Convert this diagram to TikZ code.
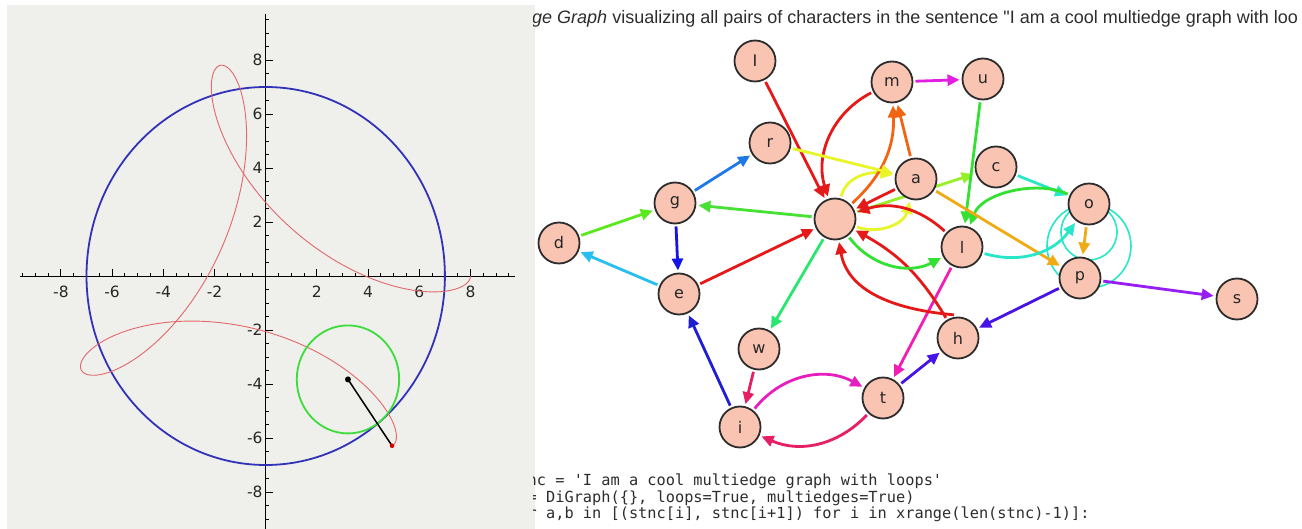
\documentclass[tikz,border=0pt]{standalone}
\usepackage{fontspec}
\usetikzlibrary{arrows.meta}
\newfontfamily\dvs{DejaVu Sans}
\newfontfamily\lsans{Liberation Sans}
\font\codefont="DejaVu Sans Mono" at 15.3pt
\definecolor{panelgray}{RGB}{239,239,235}
\definecolor{circblue}{RGB}{50,50,185}
\definecolor{circgreen}{RGB}{60,220,60}
\definecolor{curvered}{RGB}{225,105,105}
\definecolor{nodefill}{RGB}{249,196,178}
\definecolor{nodeborder}{RGB}{45,45,45}
\definecolor{txtgray}{RGB}{45,45,45}
\definecolor{ered}{RGB}{230,25,25}
\definecolor{eyel}{RGB}{232,245,40}
\definecolor{eorangeA}{RGB}{240,100,20}
\definecolor{eorangeB}{RGB}{240,170,20}
\definecolor{echart}{RGB}{150,240,40}
\definecolor{ecyan}{RGB}{40,230,200}
\definecolor{egreenA}{RGB}{50,225,50}
\definecolor{egreenB}{RGB}{70,225,50}
\definecolor{egreenC}{RGB}{90,232,30}
\definecolor{emagA}{RGB}{225,30,225}
\definecolor{emagB}{RGB}{230,30,190}
\definecolor{epink}{RGB}{240,30,180}
\definecolor{ecrim}{RGB}{230,30,100}
\definecolor{eblueA}{RGB}{30,30,210}
\definecolor{eblueB}{RGB}{20,20,230}
\definecolor{eblueC}{RGB}{30,120,230}
\definecolor{elblue}{RGB}{40,190,240}
\definecolor{eviolet}{RGB}{70,20,230}
\definecolor{espring}{RGB}{40,230,110}
\definecolor{epurple}{RGB}{150,30,240}
\pgfdeclarelayer{bg}
\pgfdeclarelayer{edgelayer}
\pgfsetlayers{bg,edgelayer,main}
\begin{document}
\begin{tikzpicture}[x=1pt,y=-1pt,
  gnode/.style={circle, draw=nodeborder, line width=1.8pt, fill=nodefill, minimum size=41pt, inner sep=0pt, outer sep=3pt, font=\dvs\fontsize{16}{18}\selectfont, text=black!85},
  gedge/.style={line width=2.8pt, -{Triangle[length=12pt,width=11pt]}},
  loopline/.style={draw=ecyan, line width=1.6pt},
  axisline/.style={line width=0.9pt, black},
  ticklab/.style={font=\dvs\fontsize{15.5}{17}\selectfont, inner sep=0pt, text=black!85}]
\begin{pgfonlayer}{bg}
  \fill[white] (0,0) rectangle (1302,529);
  \fill[panelgray] (7,5) rectangle (535,529);
\end{pgfonlayer}
\useasboundingbox (0,0) rectangle (1302,529);

% ---------- left panel: plot ----------
\begin{scope}[shift={(265.7,276)}, x=25.6pt, y=27pt]
  \draw[axisline] (-9.6,0) -- (9.74,0);
  \draw[axisline] (0,9.7) -- (0,-9.5);
  \foreach \v in {-9.5,-9,...,9.6} \draw[axisline] (\v,0) -- ++(0,3pt);
  \foreach \v in {-9,-8.5,...,9.6} \draw[axisline] (0,\v) -- ++(3pt,0);
  \foreach \v in {-8,-6,-4,-2,2,4,6,8} {
    \draw[axisline] (\v,0) -- ++(0,7pt);
    \draw[axisline] (0,\v) -- ++(7pt,0);
    \node[ticklab, anchor=north] at ([yshift=-10pt]\v,0) {\v};
    \node[ticklab, anchor=east] at ([xshift=-3pt]0,\v) {\v};
  }
  \draw[circblue, line width=1.8pt] (0,0) ellipse [x radius=179.2pt, y radius=189pt];
  \draw[curvered, line width=0.9pt] plot[domain=0:310, samples=600, variable=\t]
    ({5*cos(\t)+3*cos(2.5*\t)}, {5*sin(\t)-3*sin(2.5*\t)});
  \coordinate (rc) at (3.2139,-3.8302);
  \coordinate (pen) at (4.9347,-6.2877);
  \draw[circgreen, line width=1.8pt] (rc) ellipse [x radius=51.2pt, y radius=54pt];
  \draw[black, line width=1.5pt] (rc) -- (pen);
  \fill[black] (rc) circle (3pt);
  \fill[red!85!black] (pen) circle (2.3pt);
\end{scope}

% ---------- right panel: texts ----------
\begin{scope}
  \clip (533,0) rectangle (1302,529);
  \node[anchor=base west, inner sep=0pt, font=\lsans\fontsize{18}{21}\selectfont, text=txtgray] (title) at (532,24)
    {\textit{ge Graph} visualizing all pairs of characters in the sentence "I am a cool multiedge graph with loo};
  \node[anchor=base west, inner sep=0pt, font=\codefont, text=txtgray] (code1) at (527.5,485.5)
    {nc = 'I am a cool multiedge graph with loops'};
  \node[anchor=base west, inner sep=0pt, font=\codefont, text=txtgray] (code2) at (527.5,502)
    {= DiGraph(\{\}, loops=True, multiedges=True)};
  \node[anchor=base west, inner sep=0pt, font=\codefont, text=txtgray] (code3) at (527.5,518.5)
    {r a,b in [(stnc[i], stnc[i+1]) for i in xrange(len(stnc)-1)]:};
\end{scope}

% ---------- graph nodes ----------
\node[gnode] (I) at (755,61) {I};
\node[gnode] (m) at (892,82) {m};
\node[gnode] (u) at (983,79) {u};
\node[gnode] (r) at (770,143) {r};
\node[gnode] (a) at (916,179) {a};
\node[gnode] (c) at (996,167) {c};
\node[gnode] (g) at (675,203) {g};
\node[gnode] (sp) at (835,219) {};
\node[gnode] (o) at (1089,204) {o};
\node[gnode] (d) at (559,243) {d};
\node[gnode] (l) at (962,247) {l};
\node[gnode] (p) at (1080,278) {p};
\node[gnode] (s) at (1237,299) {s};
\node[gnode] (e) at (679,294) {e};
\node[gnode] (h) at (958,338) {h};
\node[gnode] (w) at (759,349) {w};
\node[gnode] (t) at (883,398) {t};
\node[gnode] (i) at (740,427) {i};

% ---------- edges ----------
\begin{pgfonlayer}{edgelayer}
  \draw[loopline] ([yshift=-42pt]o.center) circle [radius=42pt];
  \draw[loopline] ([yshift=-28pt]o.center) circle [radius=28pt];
  \draw[gedge, ered] (I) -- (sp);
  \draw[gedge, eyel] (sp) to[out=75, in=170] (a);
  \draw[gedge, eorangeA] (a) -- (m);
  \draw[gedge, ered] (m) to[bend right=40] (sp);
  \draw[gedge, eyel] (sp) to[out=-20, in=255] (a);
  \draw[gedge, ered] (a) -- (sp);
  \draw[gedge, echart] (sp) -- (c);
  \draw[gedge, ecyan] (c) -- (o);
  \draw[gedge, egreenA] (o) to[out=155, in=70, looseness=0.85] (l);
  \draw[gedge, ered] (l) to[bend right=30] (sp);
  \draw[gedge, eorangeA] (sp) to[bend right=25] (m);
  \draw[gedge, emagA] (m) -- (u);
  \draw[gedge, egreenA] (u) -- (l);
  \draw[gedge, epink] (l) -- (t);
  \draw[gedge, ecrim] (t) to[bend left=35] (i);
  \draw[gedge, eblueA] (i) -- (e);
  \draw[gedge, elblue] (e) -- (d);
  \draw[gedge, egreenC] (d) -- (g);
  \draw[gedge, eblueB] (g) -- (e);
  \draw[gedge, ered] (e) -- (sp);
  \draw[gedge, egreenB] (sp) -- (g);
  \draw[gedge, eblueC] (g) -- (r);
  \draw[gedge, eyel] (r) -- (a);
  \draw[gedge, eorangeB] (a) -- (p);
  \draw[gedge, eviolet] (p) -- (h);
  \draw[gedge, ered] (h) to[bend right=15] (sp);
  \draw[gedge, espring] (sp) -- (w);
  \draw[gedge, ecrim] (w) -- (i);
  \draw[gedge, emagB] (i) to[bend left=40] (t);
  \draw[gedge, eviolet] (t) -- (h);
  \draw[gedge, ered] (h.100) to[out=175, in=-80] (sp);
  \draw[gedge, egreenA] (sp) to[bend right=40] (l);
  \draw[gedge, ecyan] (l) to[bend right=35] (o);
  \draw[gedge, eorangeB] (o) -- (p);
  \draw[gedge, epurple] (p) -- (s);
\end{pgfonlayer}
\end{tikzpicture}
\end{document}
